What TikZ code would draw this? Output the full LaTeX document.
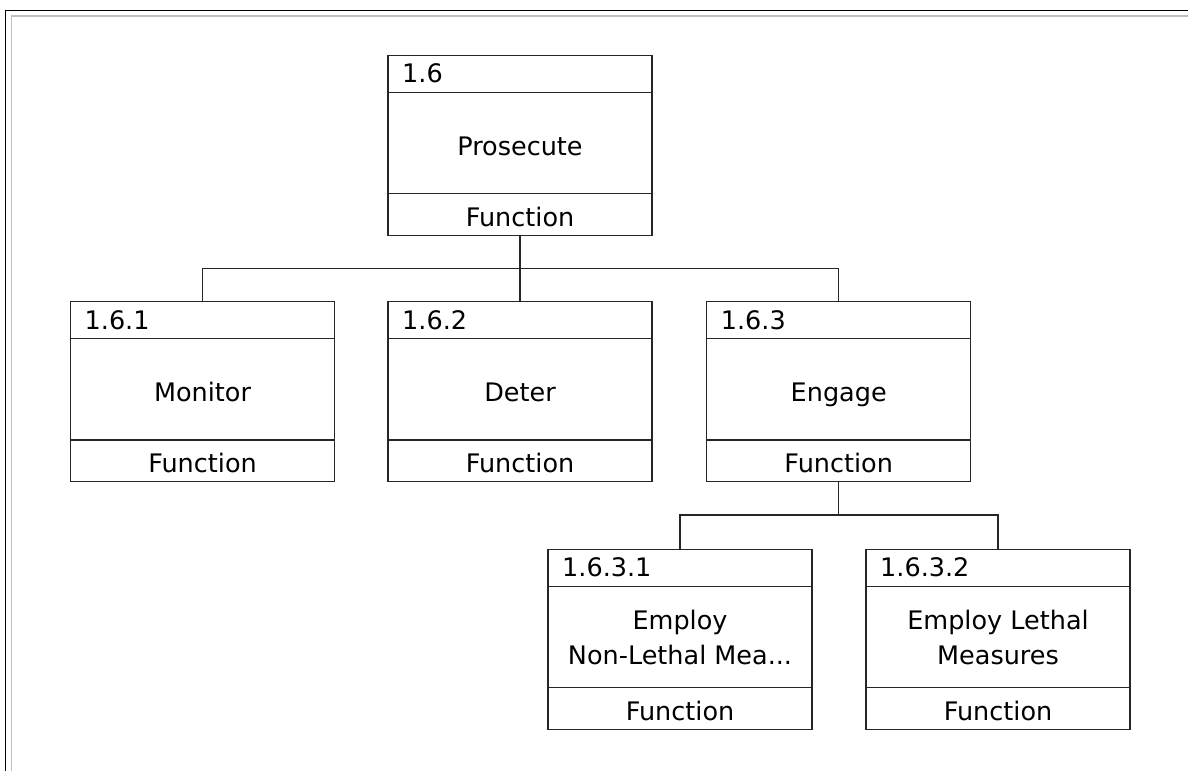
\documentclass[tikz,border=0pt]{standalone}
\usepackage{fontspec}
\setmainfont{DejaVu Sans}
\begin{document}
\begin{tikzpicture}[x=1pt,y=-1pt,
  boxn/.style={draw=black!85, line width=1.3pt, minimum width=264pt, minimum height=180pt, inner sep=0pt, outer sep=0pt},
  sep/.style={draw=black!85, line width=1.3pt},
  conn/.style={draw=black!85, line width=1.3pt},
  idtxt/.style={font=\fontsize{25.5}{30}\selectfont, inner sep=0pt, anchor=base west},
  nmtxt/.style={font=\fontsize{25.5}{35}\selectfont, inner sep=0pt, anchor=base, align=center},
  fntxt/.style={font=\fontsize{25.5}{30}\selectfont, inner sep=0pt, anchor=base},
  frameblack/.style={draw=black, line width=1.3pt},
  framegray/.style={draw=black!25, line width=1.3pt}
]
\useasboundingbox (0,0) rectangle (1188,771);
% frame
\draw[frameblack] (5.5,771) -- (5.5,10.5) -- (1188,10.5);
\draw[framegray] (11.5,771) -- (11.5,16) -- (1188,16);

\newcommand\fbx[6]{%
  \node[boxn, anchor=north west] (#1) at (#2,#3) {};
  \draw[sep] ([yshift=-36.7pt]#1.north west) -- ([yshift=-36.7pt]#1.north east);
  \draw[sep] ([yshift=41.7pt]#1.south west) -- ([yshift=41.7pt]#1.south east);
  \node[idtxt] (#1-id) at ([xshift=14pt,yshift=-27.4pt]#1.north west) {#4};
  \node[nmtxt] (#1-nm) at ([yshift=-#6pt]#1.north) {#5};
  \node[fntxt] (#1-fn) at ([yshift=9pt]#1.south) {Function};
}

\fbx{p}{388}{55.5}{1.6}{Prosecute}{100}
\fbx{m}{70.5}{301.7}{1.6.1}{Monitor}{100}
\fbx{d}{388}{301.7}{1.6.2}{Deter}{100}
\fbx{e}{706.7}{301.7}{1.6.3}{Engage}{100}
\fbx{n}{548}{549.5}{1.6.3.1}{Employ\\Non-Lethal Mea...}{115}
\fbx{l}{866}{549.5}{1.6.3.2}{Employ Lethal\\Measures}{115}

% connectors
\coordinate (j1) at (520,268.3);
\coordinate (j2) at (838.7,515);
\draw[conn] (p.south) -- (j1);
\draw[conn] (j1) -| (m.north);
\draw[conn] (j1) -| (e.north);
\draw[conn] (j1) -- (d.north);
\draw[conn] (e.south) -- (j2);
\draw[conn] (j2) -| (n.north);
\draw[conn] (j2) -| (l.north);
\end{tikzpicture}
\end{document}
